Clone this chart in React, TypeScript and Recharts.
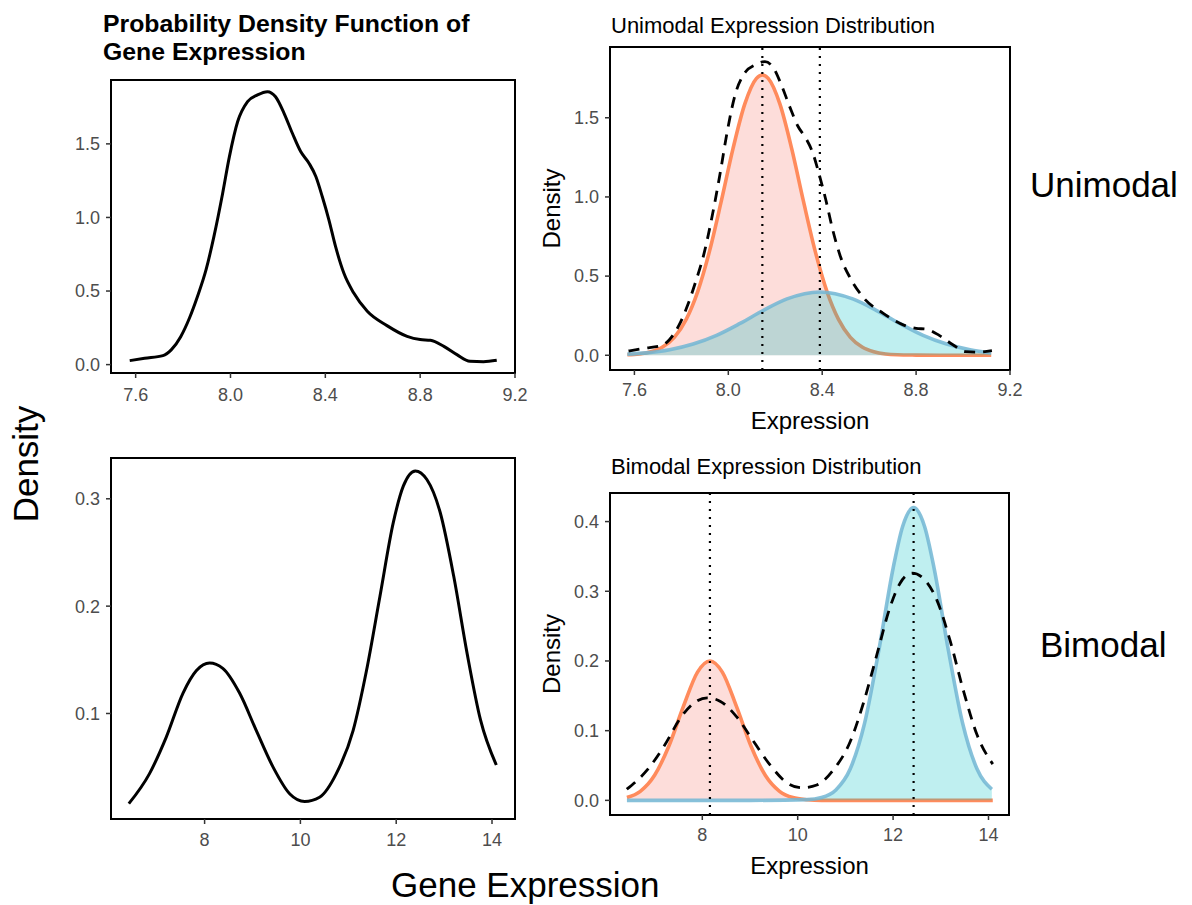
import { ComposedChart, Line, Area, XAxis, YAxis, ReferenceLine, ReferenceArea } from 'recharts';
import type { ReactNode } from 'react';

const FONT = '"Liberation Sans", Arial, Helvetica, sans-serif';

// unimodal gene: kernel density (left panel + dashed overlay on the right)
const uniKdeX = [7.575, 7.638, 7.715, 7.75, 7.79, 7.827, 7.86, 7.897, 7.93, 7.967, 7.995, 8.03, 8.072, 8.114, 8.156, 8.19, 8.226, 8.261, 8.296, 8.331, 8.36, 8.387, 8.415, 8.443, 8.478, 8.52, 8.577, 8.66, 8.745, 8.8, 8.843, 8.9, 8.955, 9.01, 9.067, 9.123];
const uniKdeY = [0.027, 0.043, 0.061, 0.1, 0.19, 0.317, 0.46, 0.645, 0.87, 1.165, 1.41, 1.65, 1.787, 1.833, 1.855, 1.82, 1.708, 1.572, 1.448, 1.369, 1.278, 1.142, 0.984, 0.803, 0.622, 0.486, 0.362, 0.265, 0.192, 0.17, 0.165, 0.124, 0.068, 0.023, 0.02, 0.029];

// unimodal gene: mixture components
const uniComp1X = [7.57, 7.62, 7.67, 7.72, 7.77, 7.82, 7.87, 7.92, 7.97, 8.02, 8.07, 8.12, 8.145, 8.17, 8.22, 8.27, 8.32, 8.37, 8.42, 8.47, 8.52, 8.57, 8.62, 8.67, 8.72, 8.8, 8.9, 9.12];
const uniComp1Y = [0.003, 0.008, 0.022, 0.052, 0.113, 0.225, 0.404, 0.658, 0.973, 1.305, 1.586, 1.749, 1.77, 1.749, 1.586, 1.305, 0.973, 0.658, 0.404, 0.225, 0.113, 0.052, 0.022, 0.008, 0.003, 0.001, 0, 0];
const uniComp2X = [7.57, 7.65, 7.75, 7.85, 7.95, 8.05, 8.15, 8.25, 8.39, 8.53, 8.63, 8.73, 8.83, 8.93, 9.03, 9.12];
const uniComp2Y = [0.007, 0.015, 0.035, 0.071, 0.126, 0.201, 0.284, 0.356, 0.4, 0.356, 0.284, 0.201, 0.126, 0.071, 0.035, 0.015];
const uniMeans = [8.145, 8.39];

const uniXTicks = [7.6, 8.0, 8.4, 8.8, 9.2];
const uniYTicks = [0, 0.5, 1.0, 1.5];

// bimodal gene
const biKdeX = [6.418, 6.85, 7.2, 7.55, 7.83, 8.105, 8.38, 8.73, 9.08, 9.43, 9.78, 10.09, 10.4, 10.75, 11.1, 11.38, 11.66, 11.94, 12.15, 12.4, 12.64, 12.92, 13.2, 13.48, 13.76, 14.09];
const biKdeY = [0.016, 0.044, 0.078, 0.119, 0.14, 0.147, 0.142, 0.119, 0.084, 0.05, 0.025, 0.018, 0.022, 0.044, 0.084, 0.14, 0.209, 0.278, 0.312, 0.326, 0.318, 0.287, 0.228, 0.156, 0.094, 0.052];

const biComp1X = [6.42, 6.7, 7.0, 7.3, 7.6, 7.9, 8.16, 8.42, 8.72, 9.02, 9.32, 9.62, 9.9, 10.2, 10.5, 12.0, 14.09];
const biComp1Y = [0.004, 0.013, 0.036, 0.078, 0.134, 0.184, 0.2, 0.184, 0.134, 0.078, 0.036, 0.013, 0.004, 0.001, 0, 0, 0];
const biComp2X = [6.42, 9.0, 10.2, 10.5, 10.8, 11.1, 11.4, 11.7, 12.0, 12.2, 12.43, 12.66, 12.86, 13.16, 13.46, 13.76, 14.07];
const biComp2Y = [0, 0, 0.001, 0.004, 0.015, 0.045, 0.11, 0.215, 0.333, 0.393, 0.42, 0.393, 0.333, 0.215, 0.11, 0.045, 0.016];
const biMeans = [8.16, 12.43];

const biXTicks = [8, 10, 12, 14];
const biYTicksLeft = [0.1, 0.2, 0.3];
const biYTicksRight = [0, 0.1, 0.2, 0.3, 0.4];

const zip = (xs: number[], ys: number[]) => xs.map((x, i) => ({ x, y: ys[i] }));

const ORANGE = '#FF8B5C';
const BLUE = '#72B6D4';

type Box = { x0: number; y0: number; x1: number; y1: number };

interface PanelProps {
  box: Box;
  yw: number;
  xh: number;
  xDomain: [number, number];
  yDomain: [number, number];
  xTicks: number[];
  yTicks: number[];
  xFmt: (v: number) => string;
  xTickMargin: number;
  xLabel?: string;
  yLabel?: string;
  children: ReactNode;
}

const tickText = { fontSize: 18, fill: '#4D4D4D', fontFamily: FONT };
const tickLine = { stroke: '#333333', strokeWidth: 1.5 };

function Panel({ box, yw, xh, xDomain, yDomain, xTicks, yTicks, xFmt, xTickMargin, xLabel, yLabel, children }: PanelProps) {
  const pad = 4;
  const padR = 20;
  const left = box.x0 - yw - pad;
  const top = box.y0 - pad;
  const width = box.x1 - box.x0 + yw + pad + padR;
  const height = box.y1 - box.y0 + xh + pad * 2;
  return (
    <div style={{ position: 'absolute', left, top }}>
      <ComposedChart width={width} height={height} margin={{ top: pad, right: padR, bottom: pad, left: pad }}>
        <XAxis
          type="number"
          dataKey="x"
          domain={xDomain}
          allowDataOverflow
          ticks={xTicks}
          interval={0}
          tickFormatter={xFmt}
          height={xh}
          axisLine={false}
          tickSize={5}
          tickMargin={xTickMargin}
          tick={tickText}
          tickLine={tickLine}
          label={xLabel ? { value: xLabel, position: 'insideBottom', offset: 3, style: { fontSize: 24, fill: '#000', fontFamily: FONT } } : undefined}
        />
        <YAxis
          type="number"
          dataKey="y"
          domain={yDomain}
          allowDataOverflow
          ticks={yTicks}
          interval={0}
          tickFormatter={(v: number) => v.toFixed(1)}
          width={yw}
          axisLine={false}
          tickSize={5}
          tickMargin={6}
          tick={tickText}
          tickLine={tickLine}
          label={yLabel ? { value: yLabel, angle: -90, position: 'insideLeft', offset: 13, style: { fontSize: 24, fill: '#000', fontFamily: FONT, textAnchor: 'middle' } } : undefined}
        />
        {children}
        <ReferenceArea x1={xDomain[0]} x2={xDomain[1]} y1={yDomain[0]} y2={yDomain[1]} fill="none" fillOpacity={0} stroke="#000" strokeWidth={2} ifOverflow="visible" />
      </ComposedChart>
    </div>
  );
}

const fmt1 = (v: number) => v.toFixed(1);
const fmt0 = (v: number) => String(v);

export default function App() {
  const uniKde = zip(uniKdeX, uniKdeY);
  const biKde = zip(biKdeX, biKdeY);
  return (
    <div style={{ position: 'absolute', left: 0, top: 0, width: 1192, height: 905, background: '#fff', fontFamily: FONT }}>
      {/* top left: unimodal density */}
      <Panel box={{ x0: 111, y0: 80, x1: 515, y1: 373 }} yw={40} xh={34} xDomain={[7.496, 9.2]} yDomain={[-0.057, 1.934]}
        xTicks={uniXTicks} yTicks={uniYTicks} xFmt={fmt1} xTickMargin={10}>
        <Line data={uniKde} dataKey="y" type="monotone" stroke="#000" strokeWidth={3} dot={false} activeDot={false} isAnimationActive={false} />
      </Panel>

      {/* top right: unimodal mixture */}
      <Panel box={{ x0: 610, y0: 47, x1: 1010, y1: 370 }} yw={72} xh={62} xDomain={[7.496, 9.2]} yDomain={[-0.093, 1.947]}
        xTicks={uniXTicks} yTicks={uniYTicks} xFmt={fmt1} xTickMargin={8} xLabel="Expression" yLabel="Density">
        <Line data={uniKde} dataKey="y" type="monotone" stroke="#000" strokeWidth={2.8} strokeDasharray="11 8" dot={false} activeDot={false} isAnimationActive={false} />
        <Area data={zip(uniComp1X, uniComp1Y)} dataKey="y" type="monotone" stroke={ORANGE} strokeWidth={3.6} fill="#F8766D" fillOpacity={0.25} dot={false} activeDot={false} isAnimationActive={false} />
        <Area data={zip(uniComp2X, uniComp2Y)} dataKey="y" type="monotone" stroke={BLUE} strokeOpacity={0.85} strokeWidth={3.6} fill="#00BFC4" fillOpacity={0.25} dot={false} activeDot={false} isAnimationActive={false} />
        {uniMeans.map((m) => (
          <ReferenceLine key={m} x={m} stroke="#000" strokeWidth={2.2} strokeDasharray="2 6" />
        ))}
      </Panel>

      {/* bottom left: bimodal density */}
      <Panel box={{ x0: 111, y0: 458, x1: 515, y1: 819 }} yw={40} xh={34} xDomain={[6.046, 14.48]} yDomain={[0.0017, 0.338]}
        xTicks={biXTicks} yTicks={biYTicksLeft} xFmt={fmt0} xTickMargin={9}>
        <Line data={biKde} dataKey="y" type="monotone" stroke="#000" strokeWidth={3} dot={false} activeDot={false} isAnimationActive={false} />
      </Panel>

      {/* bottom right: bimodal mixture */}
      <Panel box={{ x0: 610, y0: 493, x1: 1009, y1: 815 }} yw={72} xh={62} xDomain={[6.065, 14.43]} yDomain={[-0.021, 0.441]}
        xTicks={biXTicks} yTicks={biYTicksRight} xFmt={fmt0} xTickMargin={8} xLabel="Expression" yLabel="Density">
        <Line data={biKde} dataKey="y" type="monotone" stroke="#000" strokeWidth={2.8} strokeDasharray="11 8" dot={false} activeDot={false} isAnimationActive={false} />
        <Area data={zip(biComp1X, biComp1Y)} dataKey="y" type="monotone" stroke={ORANGE} strokeWidth={3.6} fill="#F8766D" fillOpacity={0.25} dot={false} activeDot={false} isAnimationActive={false} />
        <Area data={zip(biComp2X, biComp2Y)} dataKey="y" type="monotone" stroke={BLUE} strokeOpacity={0.85} strokeWidth={3.6} fill="#00BFC4" fillOpacity={0.25} dot={false} activeDot={false} isAnimationActive={false} />
        {biMeans.map((m) => (
          <ReferenceLine key={m} x={m} stroke="#000" strokeWidth={2.2} strokeDasharray="2 6" />
        ))}
      </Panel>

      {/* titles and shared labels */}
      <svg width={1192} height={905} style={{ position: 'absolute', left: 0, top: 0, pointerEvents: 'none' }}>
        <g fontFamily={FONT} fill="#000">
          <text x={103} y={32} fontSize={24.8} fontWeight="bold">Probability Density Function of</text>
          <text x={103} y={60} fontSize={24.8} fontWeight="bold">Gene Expression</text>
          <text x={611} y={33} fontSize={22}>Unimodal Expression Distribution</text>
          <text x={611} y={474} fontSize={22}>Bimodal Expression Distribution</text>
          <text x={1030} y={197} fontSize={35}>Unimodal</text>
          <text x={1040} y={657} fontSize={35}>Bimodal</text>
          <text x={391} y={897} fontSize={35}>Gene Expression</text>
          <text x={38} y={464} fontSize={35} textAnchor="middle" transform="rotate(-90 38 464)">Density</text>
        </g>
      </svg>
    </div>
  );
}
